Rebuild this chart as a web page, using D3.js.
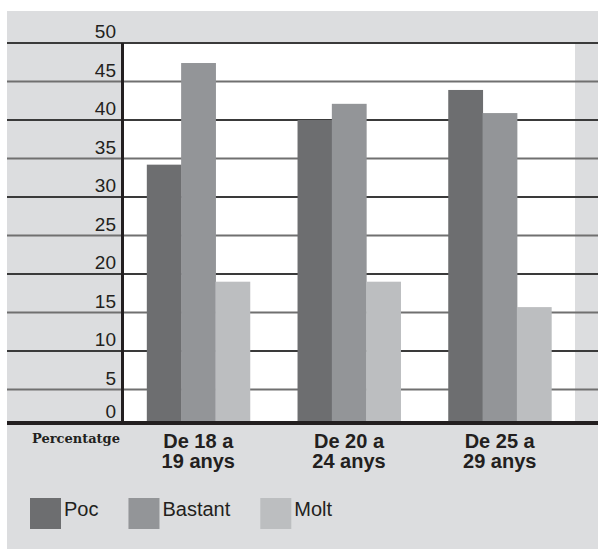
<!DOCTYPE html>
<html>
<head>
<meta charset="utf-8">
<script src="https://cdn.jsdelivr.net/npm/d3@7"></script>
<style>
  body { margin: 0; background: #fff; }
  svg { display: block; }
</style>
</head>
<body>
<svg width="598" height="549"></svg>
<script>
// chart data
var categories = [["De 18 a", "19 anys"], ["De 20 a", "24 anys"], ["De 25 a", "29 anys"]];
var seriesNames = ["Poc", "Bastant", "Molt"];
var poc = [34.2, 40.0, 43.9];
var bastant = [47.4, 42.1, 40.9];
var molt = [19.0, 19.0, 15.7];
var yTicks = [0, 5, 10, 15, 20, 25, 30, 35, 40, 45, 50];
var colors = ["#6d6e70", "#939598", "#bcbec0"];

var svg = d3.select("svg");
var bg = "#dcdddf";

// plot area
var plotLeft = 123, plotRight = 575, plotTop = 43, plotBottom = 423;

// the printed chart has a slightly shorter gap between 0 and 5
var y = d3.scaleLinear().domain([0, 5, 50]).range([plotBottom, 389.5, plotTop]);

var x0 = d3.scaleBand()
    .domain(d3.range(categories.length))
    .range([plotLeft, plotRight])
    .paddingInner(0.317)
    .paddingOuter(0.158);

var x1 = d3.scaleBand()
    .domain(seriesNames)
    .range([0, x0.bandwidth()]);

var color = d3.scaleOrdinal().domain(seriesNames).range(colors);

var values = [poc, bastant, molt];

// backgrounds
svg.append("rect").attr("x", 7).attr("y", 11).attr("width", 591).attr("height", 538).attr("fill", bg);
svg.append("rect").attr("x", plotLeft).attr("y", plotTop)
    .attr("width", plotRight - plotLeft).attr("height", plotBottom - plotTop).attr("fill", "#fff");

// gridlines
svg.append("g").selectAll("line")
    .data(yTicks.filter(function(d) { return d > 0; }))
    .enter().append("line")
    .attr("x1", 7).attr("x2", 598)
    .attr("y1", function(d) { return y(d); })
    .attr("y2", function(d) { return y(d); })
    .attr("stroke", function(d, i) { return i % 2 ? "#3a3a3a" : "#707070"; })
    .attr("stroke-width", 2);

// y labels sit above their gridline
svg.append("g").selectAll("text")
    .data(yTicks)
    .enter().append("text")
    .attr("x", 116)
    .attr("y", function(d) { return y(d) - 5; })
    .attr("text-anchor", "end")
    .attr("font-family", "Liberation Sans, Arial, sans-serif")
    .attr("font-size", 19)
    .attr("fill", "#231f20")
    .text(function(d) { return d; });

// bars
var groups = svg.append("g").selectAll("g")
    .data(categories)
    .enter().append("g")
    .attr("transform", function(d, i) { return "translate(" + x0(i) + ",0)"; });

groups.selectAll("rect")
    .data(function(d, i) {
        return seriesNames.map(function(s, j) { return {key: s, value: values[j][i]}; });
    })
    .enter().append("rect")
    .attr("x", function(d) { return x1(d.key); })
    .attr("width", x1.bandwidth() + 0.5)
    .attr("y", function(d) { return y(d.value); })
    .attr("height", function(d) { return y(0) - y(d.value); })
    .attr("fill", function(d) { return color(d.key); });

// axis lines
svg.append("line")
    .attr("x1", 122.5).attr("x2", 122.5).attr("y1", plotTop).attr("y2", plotBottom)
    .attr("stroke", "#231f20").attr("stroke-width", 3);
svg.append("line")
    .attr("x1", 7).attr("x2", 598).attr("y1", plotBottom).attr("y2", plotBottom)
    .attr("stroke", "#231f20").attr("stroke-width", 4);

// category labels
var catText = svg.append("g").selectAll("text")
    .data(categories)
    .enter().append("text")
    .attr("x", function(d, i) { return x0(i) + x0.bandwidth() / 2; })
    .attr("y", 447.5)
    .attr("text-anchor", "middle")
    .attr("font-family", "Liberation Sans, Arial, sans-serif")
    .attr("font-weight", "bold")
    .attr("font-size", 20)
    .attr("fill", "#231f20");
catText.selectAll("tspan")
    .data(function(d) { return d; })
    .enter().append("tspan")
    .attr("x", function() { return d3.select(this.parentNode).attr("x"); })
    .attr("dy", function(d, i) { return i ? 20 : 0; })
    .text(function(d) { return d; });

svg.append("text")
    .attr("x", 32).attr("y", 443)
    .attr("font-family", "DejaVu Serif, serif")
    .attr("font-weight", "bold")
    .attr("font-size", 13)
    .attr("fill", "#231f20")
    .text("Percentatge");

// legend
var legend = svg.append("g");
var lx = 30;
seriesNames.forEach(function(s) {
    legend.append("rect")
        .attr("x", lx).attr("y", 498).attr("width", 31).attr("height", 31)
        .attr("fill", color(s));
    var t = legend.append("text")
        .attr("x", lx + 34).attr("y", 516)
        .attr("font-family", "Liberation Sans, Arial, sans-serif")
        .attr("font-size", 20)
        .attr("fill", "#231f20")
        .text(s);
    lx += 34 + t.node().getComputedTextLength() + 30;
});
</script>
</body>
</html>
